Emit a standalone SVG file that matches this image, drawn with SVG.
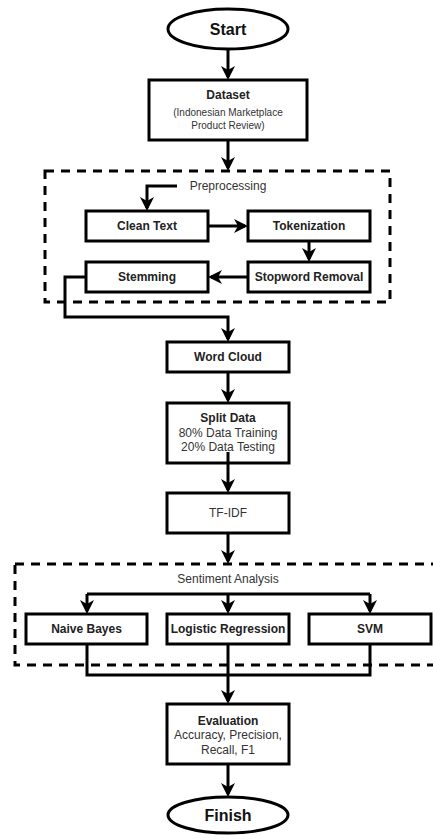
<svg xmlns="http://www.w3.org/2000/svg" width="433" height="835" viewBox="0 0 433 835">
<style>
.bx{fill:#fff;stroke:#000;stroke-width:3}
.grp{fill:none;stroke:#000;stroke-width:3;stroke-dasharray:9 7}
.c{fill:none;stroke:#000;stroke-width:3}
.ca{fill:none;stroke:#000;stroke-width:3;marker-end:url(#arr)}
text{font-family:"Liberation Sans",Arial,sans-serif;text-anchor:middle;fill:#222}
.b{font-weight:bold;font-size:12px}
.n{font-size:12px;fill:#333}
.s{font-size:10px;fill:#333}
.t{font-weight:bold;font-size:16px;fill:#111}
</style>
<defs>
<marker id="arr" markerUnits="userSpaceOnUse" markerWidth="16" markerHeight="16" refX="11" refY="7" orient="auto">
<path d="M0,0 L14,7 L0,14 L4,7 Z" fill="#000"/>
</marker>
</defs>
<rect width="433" height="835" fill="#fff"/>

<g id="preprocessing-group">
<rect class="grp" x="45" y="171" width="345" height="131"/>
<text class="n" x="228" y="190">Preprocessing</text>
</g>
<g id="sentiment-group">
<rect class="grp" x="15" y="564" width="440" height="101"/>
<text class="n" x="228" y="583">Sentiment Analysis</text>
</g>

<g id="connectors">
<path class="ca" d="M228,49 V77"/>
<path class="ca" d="M228,140 V168"/>
<path class="ca" d="M177,186 H147 V208"/>
<path class="ca" d="M208,226 H245"/>
<path class="ca" d="M309,241 V259"/>
<path class="ca" d="M248,277 H211"/>
<path class="ca" d="M86,277 H65 V317 H228 V339"/>
<path class="ca" d="M228,372 V400"/>
<path class="ca" d="M228,533 V561"/>
<path class="c" d="M87,594 H370"/>
<path class="ca" d="M87,594 V611"/>
<path class="ca" d="M228,594 V611"/>
<path class="ca" d="M370,594 V611"/>
<path class="c" d="M87,644 V675 H370 V644"/>
<path class="ca" d="M228,644 V701"/>
<path class="ca" d="M228,764 V794"/>
</g>

<g id="start">
<ellipse cx="228" cy="29" rx="60" ry="20" fill="#fff" stroke="#000" stroke-width="3"/>
<text class="t" x="228" y="35">Start</text>
</g>
<g id="dataset">
<rect class="bx" x="149" y="80" width="158" height="60"/>
<text class="b" x="228" y="99">Dataset</text>
<text class="s" x="228" y="116">(Indonesian Marketplace</text>
<text class="s" x="228" y="129">Product Review)</text>
</g>
<g id="clean-text">
<rect class="bx" x="86" y="211" width="122" height="30"/>
<text class="b" x="147" y="230">Clean Text</text>
</g>
<g id="tokenization">
<rect class="bx" x="248" y="211" width="122" height="30"/>
<text class="b" x="309" y="230">Tokenization</text>
</g>
<g id="stopword-removal">
<rect class="bx" x="248" y="262" width="122" height="30"/>
<text class="b" x="309" y="281">Stopword Removal</text>
</g>
<g id="stemming">
<rect class="bx" x="86" y="262" width="122" height="30"/>
<text class="b" x="147" y="281">Stemming</text>
</g>
<g id="word-cloud">
<rect class="bx" x="167" y="342" width="122" height="30"/>
<text class="b" x="228" y="361">Word Cloud</text>
</g>
<g id="split-data">
<rect class="bx" x="167" y="403" width="122" height="60"/>
<text class="b" x="228" y="422">Split Data</text>
<text class="n" x="228" y="437">80% Data Training</text>
<text class="n" x="228" y="451">20% Data Testing</text>
</g>
<path class="ca" d="M228,452 V490"/>
<g id="tf-idf">
<rect class="bx" x="167" y="493" width="122" height="40"/>
<text class="n" x="228" y="517">TF-IDF</text>
</g>
<g id="naive-bayes">
<rect class="bx" x="26" y="614" width="121" height="30"/>
<text class="b" x="86.5" y="633">Naive Bayes</text>
</g>
<g id="logistic-regression">
<rect class="bx" x="167" y="614" width="122" height="30"/>
<text class="b" x="228" y="633">Logistic Regression</text>
</g>
<g id="svm">
<rect class="bx" x="309" y="614" width="122" height="30"/>
<text class="b" x="370" y="633">SVM</text>
</g>
<g id="evaluation">
<rect class="bx" x="167" y="704" width="122" height="60"/>
<text class="b" x="228" y="725">Evaluation</text>
<text class="n" x="228" y="739">Accuracy, Precision,</text>
<text class="n" x="228" y="754">Recall, F1</text>
</g>
<g id="finish">
<ellipse cx="228" cy="815" rx="60" ry="18" fill="#fff" stroke="#000" stroke-width="3"/>
<text class="t" x="228" y="821">Finish</text>
</g>
</svg>
